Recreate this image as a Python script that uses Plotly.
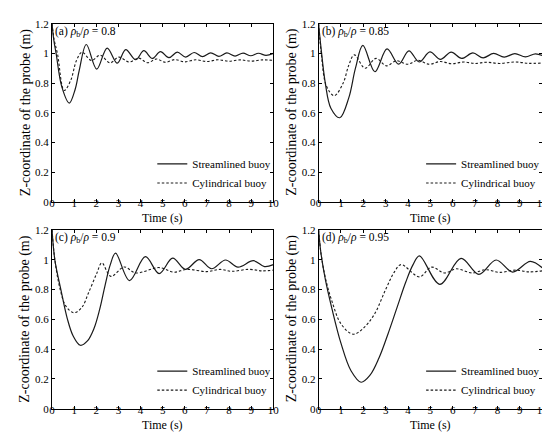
import plotly.graph_objects as go

# ---------------- data ----------------
a_str_x = [0, 0.08, 0.19, 0.44, 0.78, 1.05, 1.23, 1.55, 2.02, 2.49, 2.95, 3.33, 3.78, 4.15, 4.53, 4.9, 5.28, 5.66, 6.04, 6.42, 6.8, 7.17, 7.54, 7.9, 8.27, 8.63, 8.98, 9.33, 9.67, 10.0]
a_str_y = [1.2, 1.09, 0.995, 0.776, 0.665, 0.76, 0.885, 1.06, 0.894, 1.036, 0.934, 1.025, 0.957, 1.018, 0.966, 1.012, 0.971, 1.008, 0.975, 1.006, 0.978, 1.004, 0.98, 1.003, 0.982, 1.002, 0.984, 1.001, 0.986, 1.0]
a_cyl_x = [0, 0.1, 0.25, 0.55, 0.85, 1.1, 1.36, 1.78, 2.18, 2.62, 3.02, 3.48, 3.92, 4.32, 4.72, 5.12, 5.56, 6.0, 6.5, 7.0, 7.5, 8.0, 8.5, 9.0, 9.5, 10.0]
a_cyl_y = [1.2, 1.09, 0.995, 0.75, 0.82, 0.95, 1.008, 0.952, 0.988, 0.936, 0.975, 0.942, 0.968, 0.937, 0.962, 0.94, 0.958, 0.943, 0.957, 0.945, 0.957, 0.947, 0.956, 0.948, 0.956, 0.953]

b_str_x = [0, 0.1, 0.3, 0.55, 0.95, 1.35, 1.65, 1.98, 2.52, 3.06, 3.58, 4.04, 4.5, 4.98, 5.45, 5.93, 6.4, 6.9, 7.36, 7.83, 8.3, 8.78, 9.25, 9.7, 10.0]
b_str_y = [1.2, 1.05, 0.8, 0.63, 0.566, 0.7, 0.9, 1.054, 0.876, 1.03, 0.927, 1.017, 0.942, 1.01, 0.96, 1.008, 0.966, 1.003, 0.97, 1.0, 0.975, 0.998, 0.977, 0.997, 0.986]
b_cyl_x = [0, 0.12, 0.35, 0.7, 1.1, 1.35, 1.6, 2.08, 2.57, 3.04, 3.47, 3.99, 4.43, 4.95, 5.45, 5.95, 6.5, 7.0, 7.5, 8.1, 8.8, 9.4, 10.0]
b_cyl_y = [1.2, 1.0, 0.78, 0.715, 0.8, 0.92, 0.99, 0.9, 0.966, 0.916, 0.95, 0.927, 0.953, 0.927, 0.945, 0.93, 0.942, 0.932, 0.94, 0.932, 0.942, 0.933, 0.935]

c_str_x = [0, 0.13, 0.4, 0.69, 0.95, 1.28, 1.6, 1.9, 2.15, 2.4, 2.63, 2.87, 3.5, 4.22, 4.84, 5.45, 6.03, 6.65, 7.21, 7.84, 8.4, 9.1, 9.6, 10.0]
c_str_y = [1.2, 0.996, 0.8, 0.605, 0.49, 0.426, 0.455, 0.54, 0.665, 0.83, 0.965, 1.044, 0.86, 1.02, 0.907, 1.01, 0.935, 1.0, 0.939, 0.998, 0.95, 0.993, 0.954, 0.967]
c_cyl_x = [0, 0.13, 0.37, 0.62, 0.99, 1.35, 1.65, 2.02, 2.25, 2.66, 3.26, 3.78, 4.85, 5.5, 6.1, 7.0, 7.6, 8.1, 8.9, 9.5, 10.0]
c_cyl_y = [1.2, 0.996, 0.8, 0.69, 0.644, 0.68, 0.778, 0.908, 0.978, 0.888, 0.951, 0.911, 0.947, 0.916, 0.935, 0.92, 0.935, 0.922, 0.935, 0.925, 0.93]

d_str_x = [0, 0.1, 0.3, 0.6, 1.0, 1.45, 1.9, 2.3, 2.7, 3.1, 3.5, 3.9, 4.22, 4.51, 5.42, 6.37, 7.17, 7.94, 8.68, 9.47, 10.0]
d_str_y = [1.2, 1.05, 0.87, 0.67, 0.44, 0.255, 0.178, 0.225, 0.34, 0.5, 0.675, 0.85, 0.965, 1.026, 0.835, 1.009, 0.902, 0.998, 0.917, 0.989, 0.946]
d_cyl_x = [0, 0.1, 0.3, 0.6, 1.0, 1.54, 2.0, 2.5, 3.0, 3.4, 3.69, 4.51, 5.05, 5.64, 6.15, 6.88, 7.47, 8.1, 8.8, 9.4, 10.0]
d_cyl_y = [1.2, 1.05, 0.88, 0.72, 0.57, 0.5, 0.54, 0.635, 0.8, 0.92, 0.967, 0.885, 0.95, 0.911, 0.939, 0.911, 0.933, 0.915, 0.93, 0.918, 0.925]

panel_labels = ["(a) ", "(b) ", "(c) ", "(d) "]
ratios = ["0.8", "0.85", "0.9", "0.95"]
series_names = ["Streamlined buoy", "Cylindrical buoy"]
x_ticks = list(range(0, 11))
y_ticks = [0, 0.2, 0.4, 0.6, 0.8, 1.0, 1.2]

# ---------------- layout helpers ----------------
W, H = 550, 434
FONT = "Liberation Serif"

def px(x):
    return x / W

def py(y):
    return 1 - y / H

panels = [
    dict(xd=(41.7, 266.7), yd=(10, 193), data=(a_str_x, a_str_y, a_cyl_x, a_cyl_y)),
    dict(xd=(312.7, 540), yd=(10, 193), data=(b_str_x, b_str_y, b_cyl_x, b_cyl_y)),
    dict(xd=(41.7, 266.7), yd=(222, 406), data=(c_str_x, c_str_y, c_cyl_x, c_cyl_y)),
    dict(xd=(312.7, 540), yd=(222, 406), data=(d_str_x, d_str_y, d_cyl_x, d_cyl_y)),
]

fig = go.Figure()
layout = dict(
    width=W, height=H, margin=dict(l=0, r=0, t=0, b=0),
    paper_bgcolor="white", plot_bgcolor="white",
    font=dict(family=FONT, size=11, color="black"),
    showlegend=True,
)
annotations = []

for i, p in enumerate(panels):
    n = "" if i == 0 else str(i + 1)
    xs, ys, xc, yc = p["data"]
    leg = "legend" if i == 0 else "legend" + str(i + 1)
    fig.add_trace(go.Scatter(x=xs, y=ys, mode="lines", name=series_names[0],
                             line=dict(color="#1a1a1a", width=1.2, shape="spline", smoothing=1.0),
                             xaxis="x" + n, yaxis="y" + n, legend=leg))
    fig.add_trace(go.Scatter(x=xc, y=yc, mode="lines", name=series_names[1],
                             line=dict(color="#1a1a1a", width=1.1, dash="2.5px,2px", shape="spline", smoothing=1.0),
                             xaxis="x" + n, yaxis="y" + n, legend=leg))
    common = dict(showline=True, linecolor="black", linewidth=1, mirror="ticks",
                  ticks="inside", ticklen=3, tickcolor="black", tickwidth=1,
                  showgrid=False, zeroline=False, tickfont=dict(family=FONT, size=11))
    layout["xaxis" + n] = dict(domain=[px(p["xd"][0]), px(p["xd"][1])], range=[0, 10],
                               tickvals=x_ticks, anchor="y" + n, ticklabelstandoff=-9, **common)
    layout["yaxis" + n] = dict(domain=[py(p["yd"][1]), py(p["yd"][0])], range=[0, 1.2],
                               tickvals=y_ticks, anchor="x" + n, **common)
    x0, x1 = p["xd"]
    y0, y1 = p["yd"]
    # legend
    layout[leg] = dict(x=px(x1 + 3), xanchor="right", y=py(y1 - 29), yanchor="middle",
                       bgcolor="rgba(0,0,0,0)", font=dict(family=FONT, size=11),
                       itemwidth=30, tracegroupgap=0)
    # panel label
    annotations.append(dict(
        text=panel_labels[i] + "<i>ρ</i><sub>b</sub>/<i>ρ</i> = " + ratios[i],
        xref="paper", yref="paper", x=px(x0 + 1), y=py(y0 + 8),
        xanchor="left", yanchor="middle", showarrow=False,
        font=dict(family=FONT, size=11.5)))
    # axis titles
    annotations.append(dict(text="Time (s)", xref="paper", yref="paper",
                            x=px((x0 + x1) / 2), y=py(y1 + 17), xanchor="center", yanchor="middle",
                            showarrow=False, font=dict(family=FONT, size=12)))
    annotations.append(dict(text="Z-coordinate of the probe (m)", xref="paper", yref="paper",
                            x=px(x0 - 27), y=py((y0 + y1) / 2), xanchor="center", yanchor="middle",
                            textangle=-90, showarrow=False, font=dict(family=FONT, size=14)))

layout["annotations"] = annotations
fig.update_layout(**layout)
fig.write_html("out.html")
